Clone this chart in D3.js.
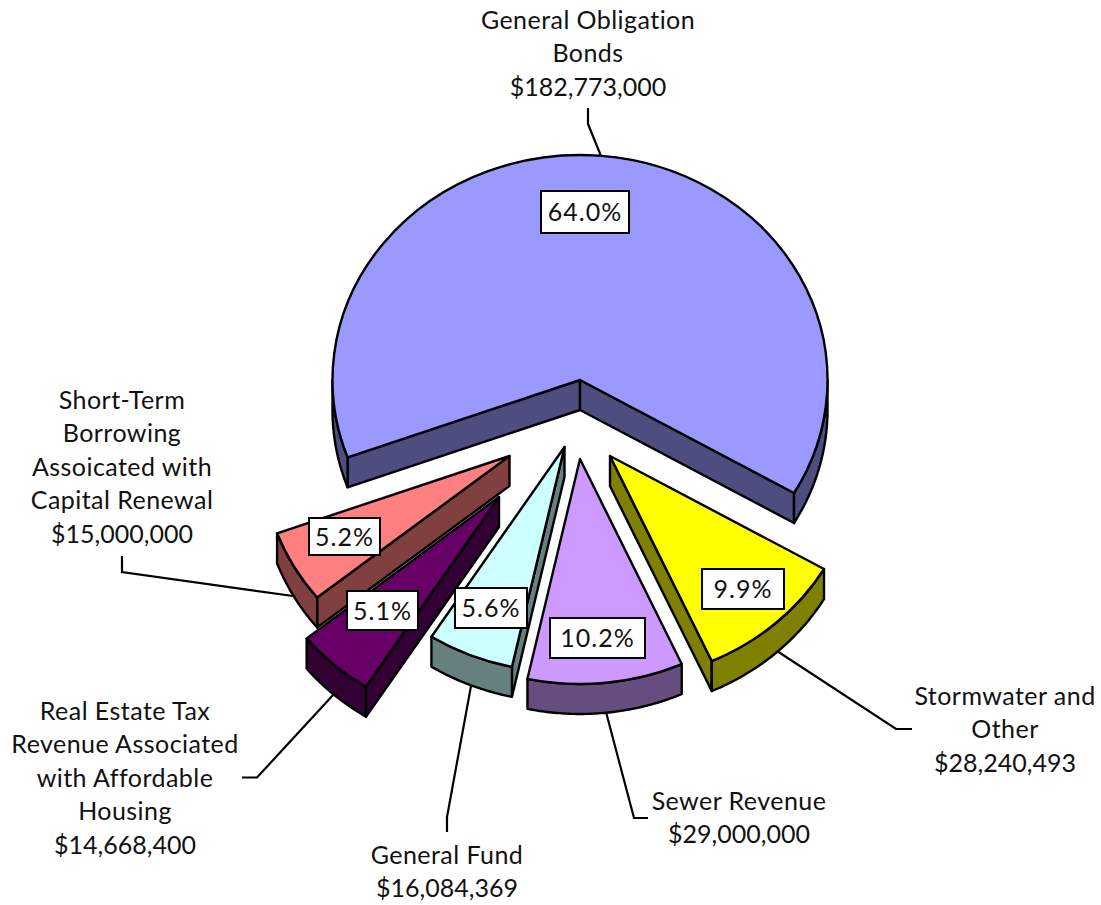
<!DOCTYPE html>
<html><head><meta charset="utf-8">
<script src="https://cdnjs.cloudflare.com/ajax/libs/d3/7.8.5/d3.min.js"></script>
<style>html,body{margin:0;padding:0;background:#fff}svg{display:block}text{font-family:Lato,"Noto Sans",sans-serif;fill:#111}</style>
</head><body><svg id="c" width="1101" height="905"></svg>
<script>
// data
const names = [
  ["General Obligation","Bonds"],
  ["Stormwater and","Other"],
  ["Sewer Revenue"],
  ["General Fund"],
  ["Real Estate Tax","Revenue Associated","with Affordable","Housing"],
  ["Short-Term","Borrowing","Assoicated with","Capital Renewal"]
];
const values = [182773000,28240493,29000000,16084369,14668400,15000000];
const amounts = ["$182,773,000","$28,240,493","$29,000,000","$16,084,369","$14,668,400","$15,000,000"];
const percents = ["64.0%","9.9%","10.2%","5.6%","5.1%","5.2%"];
// appearance
const topColors = ["#9999FF","#FFFF00","#CC99FF","#CCFFFF","#660066","#FF8080"];
const sideColors = ["#4D4D80","#808000","#664D80","#668080","#330033","#804040"];
// layout: how far each slice is pulled out of the pie
const explodeX = [4,34,4,-11.5,-77,-66.5];
const explodeY = [-39,37,40,28,78,37];
const cx=576, cy=419, rx=247.5, tilt=0.909, depth=30, startDeg=-110.1;
const fontSize=25, lineGap=33.4;
const pctBoxes=[[585,212,88,42],[743,589,82,40],[597.5,638,95,40],[491,608,72,40],[382.5,610.5,71,39],[344.5,536.5,71,37]];
const labelAnchors=[[588,29],[1005,705],[739,810],[447,864],[125,720],[122,409]];
const leaders=[
  [[588,108],[588,124],[601,156]],
  [[777,651],[896,729],[912,729]],
  [[606,712],[634,818],[648,818]],
  [[471,686],[447,817],[447,832]],
  [[334,694],[257,777.5],[242,777.5]],
  [[293,596],[122,572],[122,556]]
];

const svg=d3.select("#c");
const line=d3.line();
// leaders behind the pie
svg.append("g").selectAll("path").data(leaders).join("path")
  .attr("d",d=>line(d)).attr("fill","none").attr("stroke","#000").attr("stroke-width",2.2);

const pie=d3.pie().sort(null).value(d=>d)
  .startAngle(startDeg*Math.PI/180).endAngle(startDeg*Math.PI/180+2*Math.PI);
const arcs=pie(values);
const arcGen=d3.arc().innerRadius(0).outerRadius(rx);
const PI=Math.PI;

function rim(a,c,dy){return [c.x+rx*Math.sin(a), c.y-rx*tilt*Math.cos(a)+dy];}
function rimRange(a0,a1,c,dy){const n=Math.max(2,Math.ceil(Math.abs(a1-a0)/0.01));
  return d3.range(n+1).map(i=>rim(a0+(a1-a0)*i/n,c,dy));}
function outerWalls(a0,a1){ // portions of the rim whose outside faces the viewer
  const out=[];
  [[PI/2,3*PI/2],[PI/2+2*PI,3*PI/2+2*PI],[PI/2-2*PI,3*PI/2-2*PI]].forEach(([s,e])=>{
    const u=Math.max(a0,s),v=Math.min(a1,e); if(v>u) out.push([u,v]);
  });
  return out;
}
// back to front order
const order=[0,5,1,2,3,4];
order.forEach(i=>{
  const a=arcs[i];
  const c={x:cx+explodeX[i], y:cy+explodeY[i]};
  const g=svg.append("g").attr("class","slice");
  const face=(pts)=>g.append("path").attr("d",line(pts)+"Z")
     .attr("fill",sideColors[i]).attr("stroke","#000").attr("stroke-width",2.4).attr("stroke-linejoin","round");
  // cut faces
  if(-Math.sin(a.startAngle)>0){const r=rim(a.startAngle,c,0);
    face([[c.x,c.y],r,[r[0],r[1]+depth],[c.x,c.y+depth]]);}
  if(Math.sin(a.endAngle)>0){const r=rim(a.endAngle,c,0);
    face([[c.x,c.y],r,[r[0],r[1]+depth],[c.x,c.y+depth]]);}
  // outer rim
  outerWalls(a.startAngle,a.endAngle).forEach(([u,v])=>{
    face(rimRange(u,v,c,0).concat(rimRange(v,u,c,depth)));
  });
  // top
  g.append("path").attr("d",arcGen({startAngle:a.startAngle,endAngle:a.endAngle}))
   .attr("transform",`translate(${c.x},${c.y}) scale(1,${tilt})`)
   .attr("fill",topColors[i]).attr("stroke","#000").attr("stroke-width",2.4)
   .attr("stroke-linejoin","round").attr("vector-effect","non-scaling-stroke");
});

// percent boxes
const pg=svg.append("g").selectAll("g").data(percents).join("g")
  .attr("transform",(d,i)=>`translate(${pctBoxes[i][0]},${pctBoxes[i][1]})`);
pg.append("rect").attr("x",(d,i)=>-pctBoxes[i][2]/2).attr("y",(d,i)=>-pctBoxes[i][3]/2)
  .attr("width",(d,i)=>pctBoxes[i][2]).attr("height",(d,i)=>pctBoxes[i][3])
  .attr("fill","#fff").attr("stroke","#000").attr("stroke-width",2);
pg.append("text").attr("text-anchor","middle").attr("y",9).attr("font-size",fontSize)
  .attr("letter-spacing",1).text(d=>d);

// category labels
names.forEach((n,i)=>{
  const t=svg.append("text").attr("text-anchor","middle").attr("font-size",fontSize);
  n.forEach((s,k)=>{
    t.append("tspan").attr("x",labelAnchors[i][0]).attr("y",labelAnchors[i][1]+k*lineGap)
     .attr("letter-spacing",0.45).text(s);
  });
  t.append("tspan").attr("x",labelAnchors[i][0]).attr("y",labelAnchors[i][1]+n.length*lineGap).text(amounts[i]);
});
</script></body></html>
